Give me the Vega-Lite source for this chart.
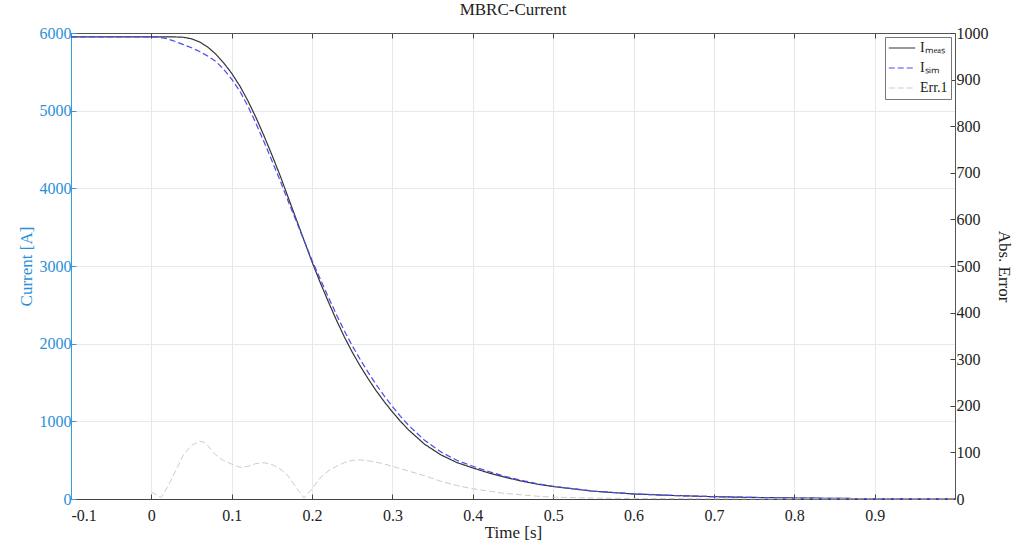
{
"$schema": "https://vega.github.io/schema/vega-lite/v6.json",
"width": 884, "height": 466,
"autosize": {"type": "none"},
"padding": {"left": 71, "top": 33, "right": 57, "bottom": 43},
"background": "white",
"title": {"text": "MBRC-Current", "font": "Liberation Serif", "fontSize": 17, "fontWeight": "normal", "color": "#222222", "offset": 6},
"config": {"view": {"stroke": null}, "axis": {"labelFont": "Liberation Serif", "titleFont": "Liberation Serif", "labelFontSize": 16, "titleFontSize": 17, "titleFontWeight": "normal"},
 "legend": {"orient": "top-right", "offset": 4, "title": null, "strokeColor": "#777777", "fillColor": "white", "padding": 3, "symbolType": "stroke", "symbolSize": 700, "symbolStrokeWidth": 1.2, "labelFont": "Liberation Serif", "labelFontSize": 14, "labelColor": "#222222", "rowPadding": 4, "clipHeight": 16}},
"data": {"values": [
{"t":-0.1,"series":"IMeas","v":5950},{"t":-0.05,"series":"IMeas","v":5950},{"t":0,"series":"IMeas","v":5950},{"t":0.02,"series":"IMeas","v":5950},{"t":0.03,"series":"IMeas","v":5949},{"t":0.04,"series":"IMeas","v":5945},{"t":0.05,"series":"IMeas","v":5925},{"t":0.06,"series":"IMeas","v":5885},{"t":0.07,"series":"IMeas","v":5820},{"t":0.08,"series":"IMeas","v":5730},{"t":0.09,"series":"IMeas","v":5615},{"t":0.1,"series":"IMeas","v":5480},{"t":0.11,"series":"IMeas","v":5320},{"t":0.12,"series":"IMeas","v":5130},{"t":0.13,"series":"IMeas","v":4915},{"t":0.14,"series":"IMeas","v":4680},{"t":0.15,"series":"IMeas","v":4430},{"t":0.16,"series":"IMeas","v":4170},{"t":0.17,"series":"IMeas","v":3890},{"t":0.18,"series":"IMeas","v":3610},{"t":0.19,"series":"IMeas","v":3330},{"t":0.2,"series":"IMeas","v":3050},{"t":0.21,"series":"IMeas","v":2790},{"t":0.22,"series":"IMeas","v":2545},{"t":0.23,"series":"IMeas","v":2310},{"t":0.24,"series":"IMeas","v":2090},{"t":0.25,"series":"IMeas","v":1890},{"t":0.26,"series":"IMeas","v":1710},{"t":0.27,"series":"IMeas","v":1545},{"t":0.28,"series":"IMeas","v":1390},{"t":0.29,"series":"IMeas","v":1250},{"t":0.3,"series":"IMeas","v":1120},{"t":0.31,"series":"IMeas","v":1000},{"t":0.32,"series":"IMeas","v":890},{"t":0.34,"series":"IMeas","v":705},{"t":0.36,"series":"IMeas","v":570},{"t":0.38,"series":"IMeas","v":470},{"t":0.4,"series":"IMeas","v":400},{"t":0.42,"series":"IMeas","v":335},{"t":0.44,"series":"IMeas","v":280},{"t":0.46,"series":"IMeas","v":232},{"t":0.48,"series":"IMeas","v":192},{"t":0.5,"series":"IMeas","v":160},{"t":0.55,"series":"IMeas","v":100},{"t":0.6,"series":"IMeas","v":65},{"t":0.65,"series":"IMeas","v":45},{"t":0.7,"series":"IMeas","v":30},{"t":0.75,"series":"IMeas","v":20},{"t":0.8,"series":"IMeas","v":13},{"t":0.85,"series":"IMeas","v":8},{"t":0.9,"series":"IMeas","v":5},{"t":0.95,"series":"IMeas","v":3},{"t":1.0,"series":"IMeas","v":2},
{"t":-0.1,"series":"ISim","v":5950},{"t":-0.05,"series":"ISim","v":5950},{"t":0,"series":"ISim","v":5950},{"t":0.01,"series":"ISim","v":5945},{"t":0.02,"series":"ISim","v":5925},{"t":0.03,"series":"ISim","v":5890},{"t":0.04,"series":"ISim","v":5850},{"t":0.05,"series":"ISim","v":5810},{"t":0.06,"series":"ISim","v":5761},{"t":0.07,"series":"ISim","v":5705},{"t":0.08,"series":"ISim","v":5635},{"t":0.09,"series":"ISim","v":5533},{"t":0.1,"series":"ISim","v":5405},{"t":0.11,"series":"ISim","v":5252},{"t":0.12,"series":"ISim","v":5060},{"t":0.13,"series":"ISim","v":4839},{"t":0.14,"series":"ISim","v":4602},{"t":0.15,"series":"ISim","v":4356},{"t":0.16,"series":"ISim","v":4105},{"t":0.17,"series":"ISim","v":3840},{"t":0.18,"series":"ISim","v":3585},{"t":0.19,"series":"ISim","v":3328},{"t":0.2,"series":"ISim","v":3072},{"t":0.21,"series":"ISim","v":2835},{"t":0.22,"series":"ISim","v":2605},{"t":0.23,"series":"ISim","v":2380},{"t":0.24,"series":"ISim","v":2168},{"t":0.25,"series":"ISim","v":1973},{"t":0.26,"series":"ISim","v":1794},{"t":0.27,"series":"ISim","v":1627},{"t":0.28,"series":"ISim","v":1469},{"t":0.29,"series":"ISim","v":1325},{"t":0.3,"series":"ISim","v":1190},{"t":0.31,"series":"ISim","v":1065},{"t":0.32,"series":"ISim","v":950},{"t":0.34,"series":"ISim","v":755},{"t":0.36,"series":"ISim","v":608},{"t":0.38,"series":"ISim","v":499},{"t":0.4,"series":"ISim","v":422},{"t":0.42,"series":"ISim","v":352},{"t":0.44,"series":"ISim","v":292},{"t":0.46,"series":"ISim","v":241},{"t":0.48,"series":"ISim","v":198},{"t":0.5,"series":"ISim","v":164},{"t":0.55,"series":"ISim","v":102},{"t":0.6,"series":"ISim","v":66},{"t":0.65,"series":"ISim","v":45},{"t":0.7,"series":"ISim","v":30},{"t":0.75,"series":"ISim","v":20},{"t":0.8,"series":"ISim","v":13},{"t":0.85,"series":"ISim","v":8},{"t":0.9,"series":"ISim","v":5},{"t":0.95,"series":"ISim","v":3},{"t":1.0,"series":"ISim","v":2},
{"t":0,"series":"Err.1","v":15},{"t":0.012,"series":"Err.1","v":3},{"t":0.02,"series":"Err.1","v":25},{"t":0.03,"series":"Err.1","v":60},{"t":0.04,"series":"Err.1","v":95},{"t":0.05,"series":"Err.1","v":115},{"t":0.06,"series":"Err.1","v":124},{"t":0.065,"series":"Err.1","v":122},{"t":0.07,"series":"Err.1","v":115},{"t":0.08,"series":"Err.1","v":95},{"t":0.09,"series":"Err.1","v":82},{"t":0.1,"series":"Err.1","v":75},{"t":0.11,"series":"Err.1","v":68},{"t":0.12,"series":"Err.1","v":70},{"t":0.13,"series":"Err.1","v":76},{"t":0.14,"series":"Err.1","v":78},{"t":0.15,"series":"Err.1","v":74},{"t":0.16,"series":"Err.1","v":65},{"t":0.17,"series":"Err.1","v":50},{"t":0.18,"series":"Err.1","v":25},{"t":0.19,"series":"Err.1","v":2},{"t":0.2,"series":"Err.1","v":22},{"t":0.21,"series":"Err.1","v":45},{"t":0.22,"series":"Err.1","v":60},{"t":0.23,"series":"Err.1","v":70},{"t":0.24,"series":"Err.1","v":78},{"t":0.25,"series":"Err.1","v":83},{"t":0.26,"series":"Err.1","v":84},{"t":0.27,"series":"Err.1","v":82},{"t":0.28,"series":"Err.1","v":79},{"t":0.29,"series":"Err.1","v":75},{"t":0.3,"series":"Err.1","v":70},{"t":0.31,"series":"Err.1","v":65},{"t":0.32,"series":"Err.1","v":60},{"t":0.34,"series":"Err.1","v":50},{"t":0.36,"series":"Err.1","v":38},{"t":0.38,"series":"Err.1","v":29},{"t":0.4,"series":"Err.1","v":22},{"t":0.42,"series":"Err.1","v":17},{"t":0.44,"series":"Err.1","v":12},{"t":0.46,"series":"Err.1","v":9},{"t":0.48,"series":"Err.1","v":6},{"t":0.5,"series":"Err.1","v":4},{"t":0.55,"series":"Err.1","v":2},{"t":0.6,"series":"Err.1","v":1},{"t":0.7,"series":"Err.1","v":0.5},{"t":1.0,"series":"Err.1","v":0}
]},
"resolve": {"scale": {"y": "independent"}, "axis": {"x": "independent"}},
"layer": [
{
"transform": [{"filter": "datum.series !== 'Err.1'"}],
"mark": {"type": "line", "strokeWidth": 1.2},
"encoding": {
"x": {"field": "t", "type": "quantitative", "scale": {"domain": [-0.1, 1.0], "nice": false, "zero": false},
 "axis": {"orient": "bottom", "values": [-0.1,0,0.1,0.2,0.3,0.4,0.5,0.6,0.7,0.8,0.9], "labelExpr": "datum.value == 0 ? '0' : replace(format(datum.value, '.1f'), '\u2212', '-')", "labelFont": "Liberation Serif", "labelFontSize": 16, "grid": true, "gridColor": "#e4e9ef", "tickSize": -5, "tickColor": "#444444", "domainColor": "#444444", "labelColor": "#222222", "title": "Time [s]", "titleColor": "#222222", "labelPadding": 13, "titlePadding": 1}},
"y": {"field": "v", "type": "quantitative", "scale": {"domain": [0, 6000], "nice": false},
 "axis": {"orient": "left", "values": [0,1000,2000,3000,4000,5000,6000], "format": "d", "labelFont": "Liberation Serif", "labelFontSize": 16, "grid": true, "gridColor": "#e4e9ef", "tickSize": -5, "tickColor": "#3a9ad9", "domainColor": "#3a9ad9", "labelColor": "#2b8fd6", "title": "Current [A]", "titleColor": "#2b8fd6", "labelPadding": 5, "titlePadding": 4}},
"color": {"field": "series", "type": "nominal", "scale": {"domain": ["IMeas","ISim","Err.1"], "range": ["#333333","#4a4af5","#cccccc"]},
 "legend": {"labelExpr": "datum.label == 'IMeas' ? 'I\u2098\u2091\u2090\u209b' : datum.label == 'ISim' ? 'I\u209b\u1d62\u2098' : datum.label"}},
"strokeDash": {"field": "series", "type": "nominal", "scale": {"domain": ["IMeas","ISim","Err.1"], "range": [[1,0],[6,3],[6,3]]},
 "legend": {"labelExpr": "datum.label == 'IMeas' ? 'I\u2098\u2091\u2090\u209b' : datum.label == 'ISim' ? 'I\u209b\u1d62\u2098' : datum.label"}}
}
},
{
"transform": [{"filter": "datum.series === 'Err.1'"}],
"mark": {"type": "line", "strokeWidth": 1},
"encoding": {
"x": {"field": "t", "type": "quantitative", "scale": {"domain": [-0.1, 1.0], "nice": false, "zero": false},
 "axis": {"orient": "top", "values": [-0.1,0,0.1,0.2,0.3,0.4,0.5,0.6,0.7,0.8,0.9], "labels": false, "grid": false, "tickSize": -5, "tickColor": "#444444", "domainColor": "#555555", "title": null}},
"y": {"field": "v", "type": "quantitative", "scale": {"domain": [0, 1000], "nice": false},
 "axis": {"orient": "right", "values": [0,100,200,300,400,500,600,700,800,900,1000], "format": "d", "labelFont": "Liberation Serif", "labelFontSize": 16, "grid": false, "tickSize": -5, "tickColor": "#444444", "domainColor": "#555555", "labelColor": "#222222", "title": "Abs. Error", "titleColor": "#222222", "labelPadding": 6, "titlePadding": 6}},
"color": {"field": "series", "type": "nominal", "scale": {"domain": ["IMeas","ISim","Err.1"], "range": ["#333333","#4a4af5","#cccccc"]},
 "legend": {"labelExpr": "datum.label == 'IMeas' ? 'I\u2098\u2091\u2090\u209b' : datum.label == 'ISim' ? 'I\u209b\u1d62\u2098' : datum.label"}},
"strokeDash": {"field": "series", "type": "nominal", "scale": {"domain": ["IMeas","ISim","Err.1"], "range": [[1,0],[6,3],[6,3]]},
 "legend": {"labelExpr": "datum.label == 'IMeas' ? 'I\u2098\u2091\u2090\u209b' : datum.label == 'ISim' ? 'I\u209b\u1d62\u2098' : datum.label"}}
}
}
]
}
